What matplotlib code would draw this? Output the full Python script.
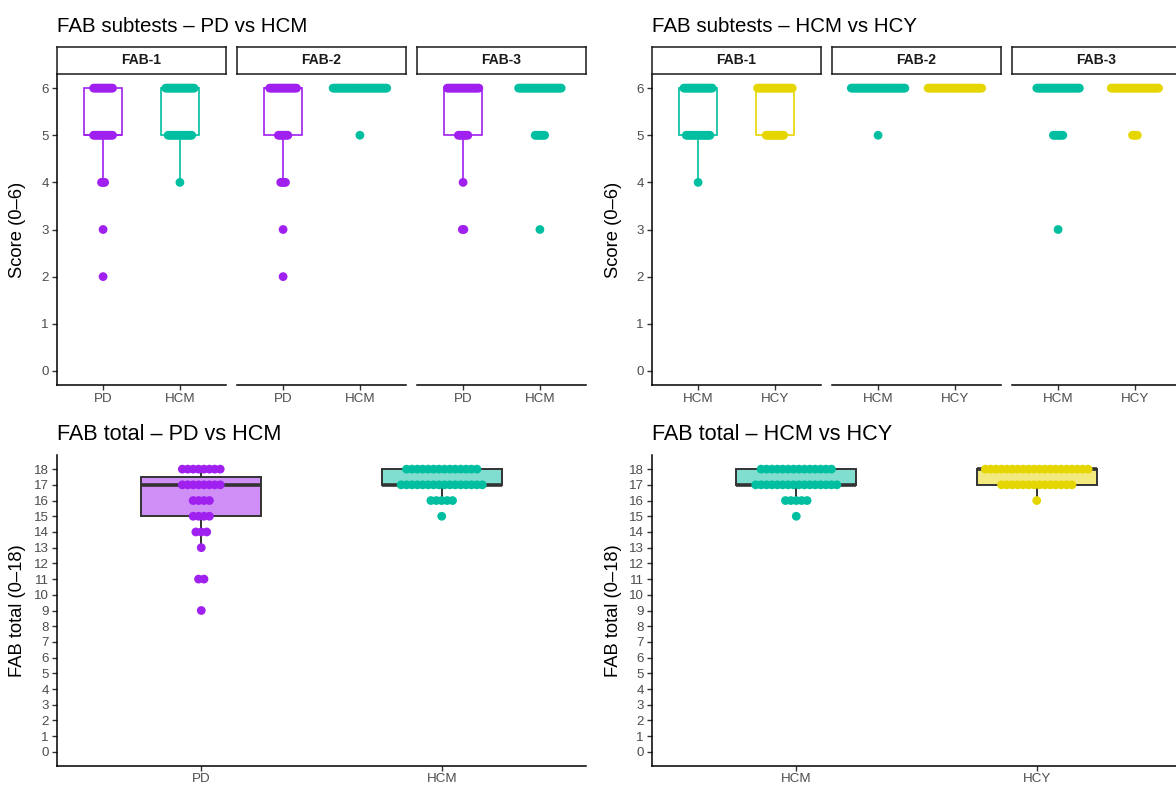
import numpy as np
import matplotlib
matplotlib.use("Agg")
import matplotlib.pyplot as plt
from matplotlib.patches import Rectangle

plt.rcParams['font.family'] = ['Liberation Sans', 'DejaVu Sans']

# ---- data -------------------------------------------------------------
subtests = ["FAB-1", "FAB-2", "FAB-3"]
sub_levels = [6, 5, 4, 3, 2]          # counts below follow this order

pd_fab1 = [13, 13, 3, 1, 1]
pd_fab2 = [18, 7, 4, 1, 1]
pd_fab3 = [21, 7, 1, 2, 0]
hcm_fab1 = [19, 16, 1, 0, 0]
hcm_fab2 = [35, 1, 0, 0, 0]
hcm_fab3 = [28, 7, 0, 1, 0]
hcy_fab1 = [23, 12, 0, 0, 0]
hcy_fab2 = [35, 0, 0, 0, 0]
hcy_fab3 = [31, 4, 0, 0, 0]

total_levels = [18, 17, 16, 15, 14, 13, 12, 11, 10, 9]
pd_total = [8, 8, 4, 4, 3, 1, 0, 2, 0, 1]
hcm_total = [14, 16, 5, 1, 0, 0, 0, 0, 0, 0]
hcy_total = [20, 14, 1, 0, 0, 0, 0, 0, 0, 0]

groups_left = ["PD", "HCM"]
groups_right = ["HCM", "HCY"]

colors = {"PD": "#A020F0", "HCM": "#00BFA0", "HCY": "#E6D600"}

sub_counts = {
    "PD": [pd_fab1, pd_fab2, pd_fab3],
    "HCM": [hcm_fab1, hcm_fab2, hcm_fab3],
    "HCY": [hcy_fab1, hcy_fab2, hcy_fab3],
}
tot_counts = {"PD": pd_total, "HCM": hcm_total, "HCY": hcy_total}

# ---- layout helpers ---------------------------------------------------
W, H = 1176, 785
fig = plt.figure(figsize=(W / 100, H / 100), dpi=100)

TICK_COL = "#4D4D4D"
BOX_W = 0.5


def px_axes(x0, y_top, w, h):
    return fig.add_axes([x0 / W, 1 - (y_top + h) / H, w / W, h / H])


def style_axes(ax, show_y=True):
    for s in ("top", "right"):
        ax.spines[s].set_visible(False)
    ax.spines["bottom"].set_linewidth(1.1)
    ax.spines["left"].set_linewidth(1.1)
    ax.tick_params(axis="both", colors="#333333", length=3.5, width=1.0,
                   labelcolor=TICK_COL, labelsize=9.6, pad=2.5)
    if not show_y:
        ax.spines["left"].set_visible(False)
        ax.tick_params(axis="y", left=False, labelleft=False)


def box_stats(values):
    q1, med, q3 = np.percentile(values, [25, 50, 75])
    iqr = q3 - q1
    lo = values[values >= q1 - 1.5 * iqr].min()
    hi = values[values <= q3 + 1.5 * iqr].max()
    return q1, med, q3, lo, hi


def draw_group(ax, xpos, levels, counts, color, filled, step):
    values = np.repeat(levels, counts).astype(float)
    q1, med, q3, lo, hi = box_stats(values)
    if filled:
        edge, lw, mlw = "#333333", 1.4, 2.6
        ax.add_patch(Rectangle((xpos - BOX_W / 2, q1), BOX_W, q3 - q1,
                               facecolor=color, alpha=0.5, edgecolor="none", zorder=1))
        ax.add_patch(Rectangle((xpos - BOX_W / 2, q1), BOX_W, q3 - q1,
                               facecolor="none", edgecolor=edge, lw=lw, zorder=2))
    else:
        edge, lw, mlw = color, 1.2, 1.2
        ax.add_patch(Rectangle((xpos - BOX_W / 2, q1), BOX_W, q3 - q1,
                               facecolor="none", edgecolor=edge, lw=lw, zorder=2))
    ax.plot([xpos - BOX_W / 2, xpos + BOX_W / 2], [med, med], color=edge,
            lw=mlw, solid_capstyle="butt", zorder=2)
    ax.plot([xpos, xpos], [lo, q1], color=edge, lw=lw, zorder=2)
    ax.plot([xpos, xpos], [q3, hi], color=edge, lw=lw, zorder=2)
    # centred dot stacks, one row per score
    for lev, n in zip(levels, counts):
        if n == 0:
            continue
        offs = (np.arange(n) - (n - 1) / 2) * step
        ax.scatter(xpos + offs, np.full(n, lev), s=40, color=color,
                   edgecolors="none", zorder=3)


def subtest_block(x0, groups, title, ylabel_x):
    fig.text(x0 / W, 1 - 27 / H, title, fontsize=14.8, ha="left", va="center")
    for k, name in enumerate(subtests):
        fx = x0 + k * 180
        ax = px_axes(fx, 74, 169, 311)
        style_axes(ax, show_y=(k == 0))
        ax.set_xlim(0.4, 2.6)
        ax.set_ylim(-0.3, 6.3)
        ax.set_yticks(range(0, 7))
        ax.set_xticks([1, 2])
        ax.set_xticklabels(groups)
        for gi, g in enumerate(groups):
            draw_group(ax, gi + 1, sub_levels, sub_counts[g][k], colors[g],
                       False, 0.0205)
        sax = px_axes(fx, 47, 169, 27)
        sax.set_xticks([]); sax.set_yticks([])
        for s in sax.spines.values():
            s.set_linewidth(1.1)
            s.set_color("#1a1a1a")
        sax.text(0.5, 0.5, name, ha="center", va="center", fontsize=10,
                 fontweight="bold", color="#1a1a1a", transform=sax.transAxes)
    fig.text(ylabel_x / W, 1 - 229.5 / H, "Score (0–6)", rotation=90,
             fontsize=13.2, ha="center", va="center")


def total_block(x0, groups, title, ylabel_x):
    fig.text(x0 / W, 1 - 434 / H, title, fontsize=15.6, ha="left", va="center")
    ax = px_axes(x0, 455, 529, 311)
    style_axes(ax)
    ax.tick_params(axis="x", pad=1.5)
    ax.set_xlim(0.4, 2.6)
    ax.set_ylim(-0.9, 18.9)
    ax.set_yticks(range(0, 19))
    ax.set_xticks([1, 2])
    ax.set_xticklabels(groups)
    for gi, g in enumerate(groups):
        draw_group(ax, gi + 1, total_levels, tot_counts[g], colors[g],
                   True, 0.0225)
    fig.text(ylabel_x / W, 1 - 610.5 / H, "FAB total (0–18)", rotation=90,
             fontsize=13.2, ha="center", va="center")


subtest_block(57, groups_left, "FAB subtests – PD vs HCM", 18)
subtest_block(652, groups_right, "FAB subtests – HCM vs HCY", 613)
total_block(57, groups_left, "FAB total – PD vs HCM", 18)
total_block(652, groups_right, "FAB total – HCM vs HCY", 613)

fig.savefig("out.png", dpi=100)
